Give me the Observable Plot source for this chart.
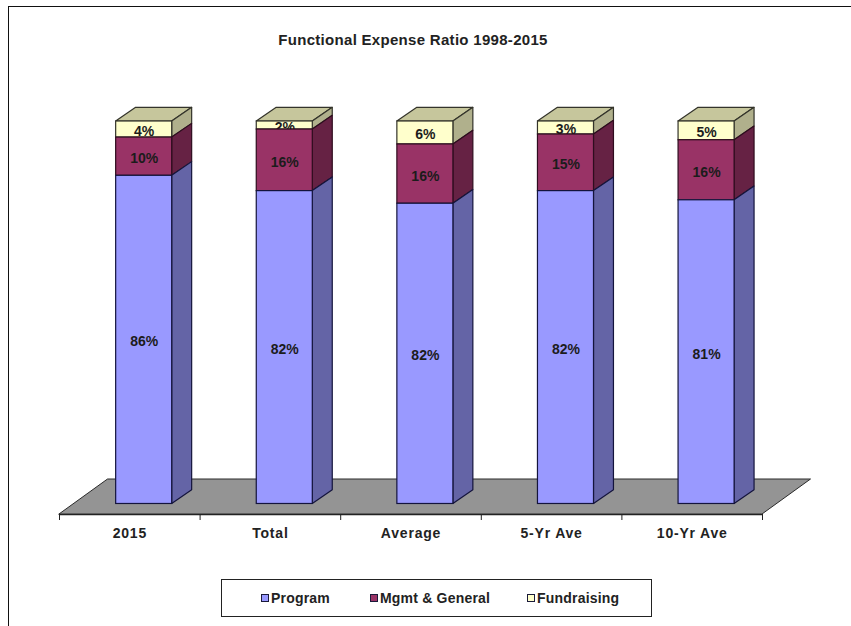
<!DOCTYPE html>
<html><head><meta charset="utf-8">
<script src="https://cdn.jsdelivr.net/npm/d3@7"></script>
<script src="https://cdn.jsdelivr.net/npm/@observablehq/plot@0.6"></script>
<style>
html,body{margin:0;padding:0;background:#fff;overflow:hidden;width:851px;height:626px;font-family:"Liberation Sans",Arial,sans-serif;color:#222}
#frame{position:absolute;left:8px;top:6px;width:860px;height:640px;border:1.5px solid #111;box-sizing:border-box}
#title{position:absolute;left:0;top:32px;width:826px;text-align:center;font-weight:bold;font-size:15px;line-height:16px;letter-spacing:.3px;color:#222}
#chart{position:absolute;left:0;top:95px}
#legend{position:absolute;left:221px;top:579px;width:431px;height:38px;border:1px solid #222;box-sizing:border-box;background:#fff}
.key{position:absolute;top:9px;font-weight:bold;font-size:14px;line-height:18px;letter-spacing:.2px;white-space:nowrap}
.key i{position:absolute;left:-10px;top:5px;width:6px;height:6px;border:1.5px solid #1a1a3a;box-sizing:content-box}
g[aria-label="x-axis tick label"] text{letter-spacing:.8px}
</style></head><body>
<div id="frame"></div>
<div id="title">Functional Expense Ratio 1998-2015</div>
<div id="chart"></div>
<div id="legend"></div>
<script>
const categories = ["2015", "Total", "Average", "5-Yr Ave", "10-Yr Ave"];
const programHeights = [85.8, 81.8, 78.5, 81.8, 79.4];
const mgmtHeights = [10.0, 16.1, 15.5, 14.8, 15.7];
const fundHeights = [4.2, 2.1, 6.0, 3.4, 4.9];
const programLabels = ["86%", "82%", "82%", "82%", "81%"];
const mgmtLabels = ["10%", "16%", "16%", "15%", "16%"];
const fundLabels = ["4%", "2%", "6%", "3%", "5%"];
const seriesNames = ["Program", "Mgmt & General", "Fundraising"];
const frontColors = ["#9999ff", "#993366", "#ffffcc"];
const sideColors = ["#6464a6", "#662244", "#b0b08c"];
const edgeColors = ["#14143c", "#2e0c1e", "#33332a"];
const topColor = "#c6c69c";
const floorColor = "#949494";

// depth of the oblique projection, in data units of each scale
const depthX = 0.142, depthY = 3.58;
const barLeft = 0.403, barRight = 0.8015;
const floorFrontY = -2.75, floorBackY = 6.4, floorShift = 0.345;

const heights = [programHeights, mgmtHeights, fundHeights];
const labels = [programLabels, mgmtLabels, fundLabels];
const segments = [];
categories.forEach((c, i) => {
  let base = 0;
  heights.forEach((h, s) => {
    segments.push({i, s, y1: base, y2: base + h[i], label: labels[s][i]});
    base += h[i];
  });
});
const L = d => d.i + barLeft, R = d => d.i + barRight;

function sideRows(s) {
  return segments.filter(d => d.s === s).flatMap(d => [
    {z: d.i, x: R(d), y1: d.y1, y2: d.y2},
    {z: d.i, x: R(d) + depthX, y1: d.y1 + depthY, y2: d.y2 + depthY}
  ]);
}
function seriesMarks(s) {
  const rows = segments.filter(d => d.s === s);
  return [
    Plot.areaY(sideRows(s), {x: "x", y1: "y1", y2: "y2", z: "z", fill: sideColors[s], stroke: edgeColors[s], strokeWidth: 1.2, curve: "linear"}),
    Plot.rect(rows, {x1: L, x2: R, y1: "y1", y2: "y2", fill: frontColors[s], stroke: edgeColors[s], strokeWidth: 1.2}),
    Plot.text(rows, {x: d => d.i + (barLeft + barRight) / 2, y: d => (d.y1 + d.y2) / 2, text: "label", dy: 2, fontSize: 14, fontWeight: "bold", fill: "#1c1c1c", fontFamily: "Liberation Sans"})
  ];
}
const topRows = categories.flatMap((c, i) => [
  {z: i, y: 100, x1: i + barLeft, x2: i + barRight},
  {z: i, y: 100 + depthY, x1: i + barLeft + depthX, x2: i + barRight + depthX}
]);
const floorRows = [
  {y: floorFrontY, x1: 0, x2: 5},
  {y: floorBackY, x1: floorShift, x2: 5 + floorShift}
];
const tickPositions = [0, 1, 2, 3, 4, 5];
const labelPositions = categories.map((c, i) => i + 0.5);

const chart = Plot.plot({
  width: 851, height: 465,
  marginLeft: 59, marginRight: 89, marginTop: 26, marginBottom: 46,
  style: {background: "transparent", fontFamily: "Liberation Sans"},
  x: {domain: [0, 5], axis: null},
  y: {domain: [floorFrontY, 100], axis: null},
  marks: [
    Plot.areaX(floorRows, {y: "y", x1: "x1", x2: "x2", fill: floorColor, stroke: "#2a2a2a", strokeWidth: 1, curve: "linear"}),
    Plot.axisX({ticks: tickPositions, tickFormat: () => "", tickSize: 6, anchor: "bottom", label: null, stroke: "#222"}),
    Plot.axisX({ticks: labelPositions, tickFormat: d => categories[d - 0.5], tickSize: 0, tickPadding: 14, anchor: "bottom", label: null, fontSize: 14, fontWeight: "bold", fill: "#222"}),
    Plot.ruleY([floorFrontY], {x1: 0, x2: 5, stroke: "#222", strokeWidth: 1.4}),
    Plot.areaX(topRows, {y: "y", x1: "x1", x2: "x2", z: "z", fill: topColor, stroke: "#33332a", strokeWidth: 1.2, curve: "linear"}),
    ...seriesMarks(2),
    ...seriesMarks(1),
    ...seriesMarks(0)
  ]
});
document.getElementById("chart").append(chart);

const legendLefts = [49, 158, 315];
const legend = document.getElementById("legend");
seriesNames.forEach((name, s) => {
  const k = document.createElement("span");
  k.className = "key";
  k.style.left = legendLefts[s] + "px";
  k.textContent = name;
  const sw = document.createElement("i");
  sw.style.background = frontColors[s];
  k.prepend(sw);
  legend.append(k);
});
</script>
</body></html>
